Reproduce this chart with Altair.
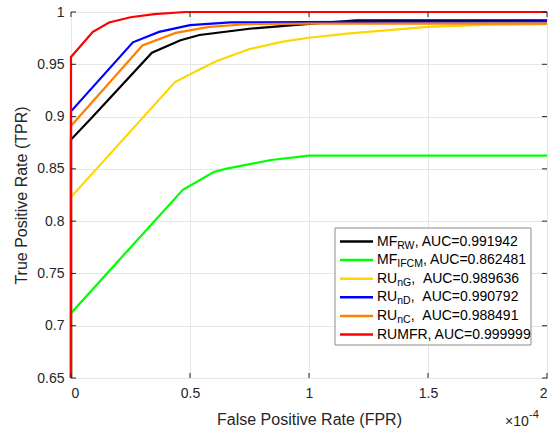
import altair as alt
import pandas as pd

# FPR in units of 1e-4 (axis shows x10^-4), TPR
mfrw_x = [0, 0, 0.09, 0.34, 0.46, 0.54, 0.75, 0.96, 1.2, 2.0]
mfrw_y = [0, 0.878, 0.8996, 0.961, 0.973, 0.978, 0.984, 0.988, 0.992, 0.992]
mfifcm_x = [0, 0, 0.47, 0.6, 0.65, 0.84, 1.0, 2.0]
mfifcm_y = [0, 0.712, 0.830, 0.847, 0.850, 0.8585, 0.8626, 0.8626]
rung_x = [0, 0, 0.437, 0.54, 0.61, 0.67, 0.75, 0.89, 1.0, 1.17, 1.5, 1.73, 2.0]
rung_y = [0, 0.823, 0.933, 0.945, 0.953, 0.958, 0.9646, 0.9716, 0.9754, 0.9796, 0.9857, 0.9876, 0.9885]
rund_x = [0, 0, 0.26, 0.37, 0.5, 0.67, 1.2, 2.0]
rund_y = [0, 0.905, 0.971, 0.981, 0.9875, 0.990, 0.9905, 0.991]
runc_x = [0, 0, 0.30, 0.44, 0.58, 0.75, 1.0, 2.0]
runc_y = [0, 0.891, 0.968, 0.980, 0.9857, 0.9885, 0.9888, 0.9888]
rumfr_x = [0, 0, 0.092, 0.16, 0.25, 0.35, 0.48, 2.0]
rumfr_y = [0, 0.957, 0.981, 0.990, 0.995, 0.998, 1.0, 1.0]

series_names = ["MF_RW", "MF_IFCM", "RU_nG", "RU_nD", "RU_nC", "RUMFR"]
series_colors = ["#000000", "#00ff00", "#ffd700", "#0000ff", "#ff7f00", "#ff0000"]
legend_main = ["MF", "MF", "RU", "RU", "RU", "RUMFR"]
legend_sub = ["RW", "IFCM", "nG", "nD", "nC", ""]
NB = "\u00a0"
legend_rest = [", AUC=0.991942", ", AUC=0.862481", "," + NB + NB + "AUC=0.989636",
               "," + NB + NB + "AUC=0.990792", "," + NB + NB + "AUC=0.988491", ", AUC=0.999999"]

x_ticks = [0, 0.5, 1, 1.5, 2]
y_ticks = [0.65, 0.7, 0.75, 0.8, 0.85, 0.9, 0.95, 1]

all_x = [mfrw_x, mfifcm_x, rung_x, rund_x, runc_x, rumfr_x]
all_y = [mfrw_y, mfifcm_y, rung_y, rund_y, runc_y, rumfr_y]

rows = []
for name, xs, ys in zip(series_names, all_x, all_y):
    for i, (a, b) in enumerate(zip(xs, ys)):
        rows.append({"series": name, "fpr": a, "tpr": b, "i": i})
df = pd.DataFrame(rows)

W, H = 476, 366
FONT = "Liberation Sans"
TXT = "#262626"

xscale = alt.Scale(domain=[0, 2], nice=False, zero=False)
yscale = alt.Scale(domain=[0.65, 1], nice=False, zero=False, clamp=True)

base = alt.Chart(df)

grid_layer = base.mark_line(opacity=0).encode(
    x=alt.X("fpr:Q", scale=xscale,
            axis=alt.Axis(values=x_ticks, format="~g", grid=True, tickSize=0,
                          domain=False, labelPadding=8, title="False Positive Rate (FPR)",
                          titleY=46, titleBaseline="alphabetic")),
    y=alt.Y("tpr:Q", scale=yscale,
            axis=alt.Axis(values=y_ticks, format="~g", grid=True, tickSize=0,
                          domain=False, labelPadding=7, title="True Positive Rate (TPR)",
                          titleX=-50, titleY=H / 2, titleBaseline="middle")),
)

layers = [grid_layer]
for name, col in zip(series_names, series_colors):
    layers.append(
        base.transform_filter(alt.datum.series == name).mark_line(
            color=col, strokeWidth=2.2, clip=False).encode(
            x=alt.X("fpr:Q", scale=xscale),
            y=alt.Y("tpr:Q", scale=yscale),
            order="i:Q",
        )
    )

# inward ticks (box style)
xt = pd.DataFrame({"v": x_ticks})
yt = pd.DataFrame({"v": y_ticks})
TL = 5
for y0, y1 in [(H, H - TL), (0, TL)]:
    layers.append(alt.Chart(xt).mark_rule(color=TXT, strokeWidth=1).encode(
        x=alt.X("v:Q", scale=xscale), y=alt.value(y0), y2=alt.value(y1)))
for x0, x1 in [(0, TL), (W, W - TL)]:
    layers.append(alt.Chart(yt).mark_rule(color=TXT, strokeWidth=1).encode(
        y=alt.Y("v:Q", scale=yscale), x=alt.value(x0), x2=alt.value(x1)))

# custom legend with subscripts
AW = {"M": .833, "F": .611, "R": .722, "U": .722, "W": .944, "I": .278, "C": .722,
      "n": .556, "G": .778, "D": .722}
MAIN_FS, SUB_FS = 14, 10.5
LX0, LX1, TX = 269, 302, 306
ROW0, ROWSTEP = 229.5, 18.6
leg = []
for k in range(6):
    mw = sum(AW[c] for c in legend_main[k]) * MAIN_FS
    sw = sum(AW[c] for c in legend_sub[k]) * SUB_FS
    leg.append({"k": k, "main": legend_main[k], "sub": legend_sub[k],
                "rest": legend_rest[k], "color": series_colors[k],
                "ypx": ROW0 + k * ROWSTEP, "subx": TX + mw, "restx": TX + mw + sw})
ldf = pd.DataFrame(leg)
lbase = alt.Chart(ldf)
box = alt.Chart(pd.DataFrame({"a": [0]})).mark_rect(
    fill="white", stroke="#8c8c8c", strokeWidth=1).encode(
    x=alt.value(264), x2=alt.value(460), y=alt.value(216), y2=alt.value(333))
layers.append(box)
layers.append(lbase.mark_rule(strokeWidth=2.5).encode(
    x=alt.value(LX0), x2=alt.value(LX1),
    y=alt.Y("ypx:Q", scale=None),
    color=alt.Color("color:N", scale=None)))
layers.append(lbase.mark_text(align="left", baseline="middle", font=FONT,
                              fontSize=MAIN_FS, color="#000000").encode(
    x=alt.value(TX), y=alt.Y("ypx:Q", scale=None), text="main:N"))
layers.append(lbase.mark_text(align="left", baseline="middle", font=FONT,
                              fontSize=SUB_FS, color="#000000", dy=4).encode(
    x=alt.X("subx:Q", scale=None), y=alt.Y("ypx:Q", scale=None), text="sub:N"))
layers.append(lbase.mark_text(align="left", baseline="middle", font=FONT,
                              fontSize=MAIN_FS, color="#000000").encode(
    x=alt.X("restx:Q", scale=None), y=alt.Y("ypx:Q", scale=None), text="rest:N"))

# x10^-4 exponent label
exp_df = pd.DataFrame({"t": ["\u00d710"], "s": ["-4"]})
layers.append(alt.Chart(exp_df).mark_text(align="left", baseline="alphabetic", font=FONT,
                                          fontSize=14, color=TXT).encode(
    x=alt.value(434), y=alt.value(414), text="t:N"))
layers.append(alt.Chart(exp_df).mark_text(align="left", baseline="alphabetic", font=FONT,
                                          fontSize=11, color=TXT).encode(
    x=alt.value(458), y=alt.value(406), text="s:N"))

chart = alt.layer(*layers).properties(
    width=W, height=H,
    background="white",
    autosize=alt.AutoSizeParams(type="none"),
    padding={"left": 71, "top": 12, "right": 10, "bottom": 51},
).configure_view(stroke=TXT, strokeWidth=1).configure_axis(
    gridColor="#e6e6e6", gridWidth=1, labelFont=FONT, labelFontSize=14,
    labelColor=TXT, titleFont=FONT, titleFontSize=16, titleColor=TXT,
    titleFontWeight="normal",
)

chart.save("out.html", embed_options={"renderer": "svg", "actions": False})
